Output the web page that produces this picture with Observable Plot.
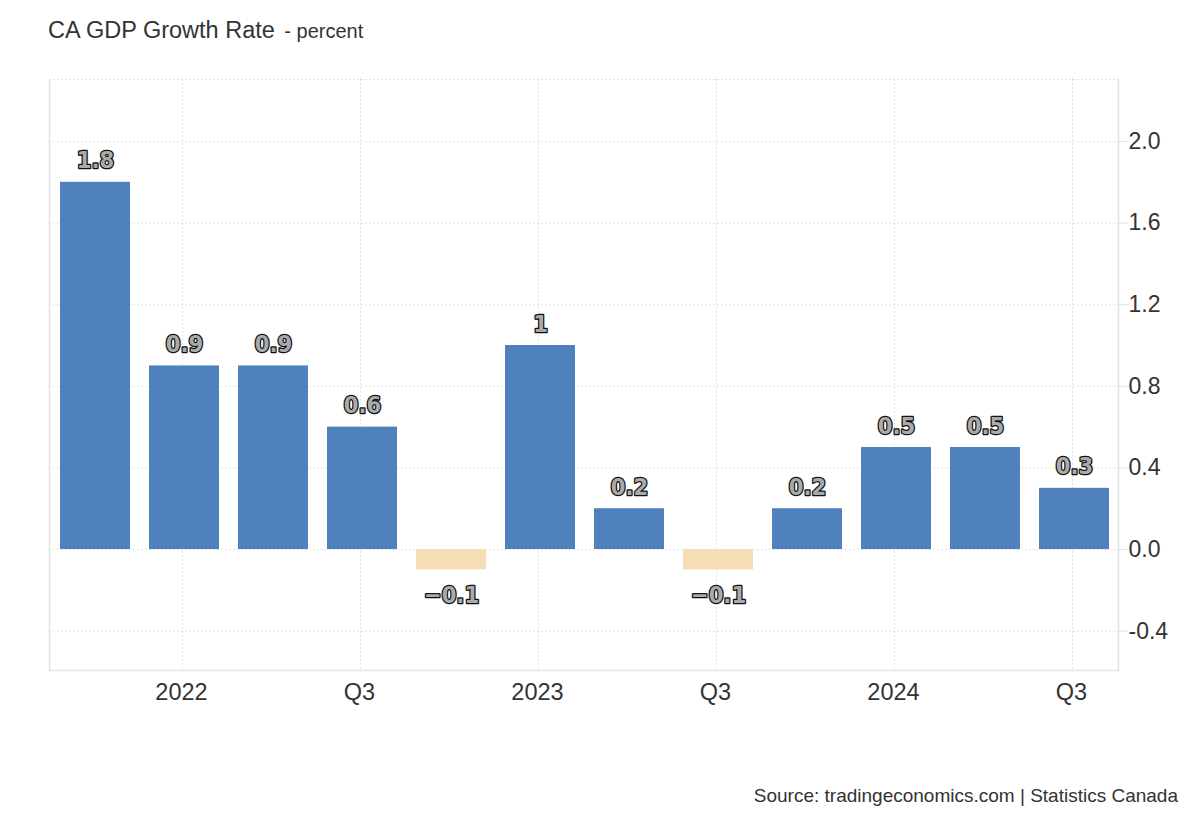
<!DOCTYPE html>
<html><head><meta charset="utf-8">
<script src="https://cdn.jsdelivr.net/npm/d3@7"></script>
<script src="https://cdn.jsdelivr.net/npm/@observablehq/plot@0.6"></script>
<style>
body{margin:0;background:#fff;font-family:"Liberation Sans",Arial,sans-serif;}
#wrap{position:relative;width:1200px;height:820px;overflow:hidden;}
#title{position:absolute;left:48px;top:17px;font-size:23.5px;color:#333;white-space:nowrap;}
#title span{font-size:20px;margin-left:3px;}
#chart{position:absolute;left:0;top:60px;}
#source{position:absolute;right:22px;top:785px;font-size:19px;color:#333;white-space:nowrap;}
</style></head>
<body>
<div id="wrap">
  <div id="title">CA GDP Growth Rate <span>- percent</span></div>
  <div id="chart"></div>
  <div id="source">Source: tradingeconomics.com | Statistics Canada</div>
</div>
<script>
const quarters = ["2021Q4","2022Q1","2022Q2","2022Q3","2022Q4","2023Q1","2023Q2","2023Q3","2023Q4","2024Q1","2024Q2","2024Q3"];
const values = [1.8, 0.9, 0.9, 0.6, -0.1, 1.0, 0.2, -0.1, 0.2, 0.5, 0.5, 0.3];
const xTickQuarters = ["2022Q1","2022Q3","2023Q1","2023Q3","2024Q1","2024Q3"];
const xTickLabels = ["2022","Q3","2023","Q3","2024","Q3"];
const yTicks = [-0.4, 0, 0.4, 0.8, 1.2, 1.6, 2.0];
const yDomain = [-0.593, 2.304];

const posColor = "#4f81bd";
const negColor = "#f5deb3";
const gridColor = "#d9d9d9";
const frameColor = "#e3e3e3";

const data = quarters.map((q, i) => ({q, v: values[i]}));
const fmtLabel = v => (v < 0 ? "\u2212" : "") + String(Math.abs(v));
const labelFont = {fontFamily: "'DejaVu Sans Condensed','DejaVu Sans',sans-serif", fontWeight: "bold", fontSize: 23.5,
  fill: "#aaa", stroke: "#111", strokeWidth: 2.5, paintOrder: "stroke"};

const chart = Plot.plot({
  width: 1200,
  height: 680,
  marginTop: 19,
  marginBottom: 70,
  marginLeft: 49,
  marginRight: 82,
  style: {fontFamily: "'Liberation Sans',Arial,sans-serif", background: "#fff"},
  x: {domain: quarters, paddingInner: 0.214, paddingOuter: 0.1, align: 0.55},
  y: {domain: yDomain},
  marks: [
    Plot.gridY({ticks: yTicks, stroke: gridColor, strokeOpacity: 1, strokeDasharray: "1.5,2.5"}),
    Plot.ruleY([yDomain[1]], {stroke: gridColor, strokeDasharray: "1.5,2.5"}),
    Plot.gridX({ticks: xTickQuarters, stroke: gridColor, strokeOpacity: 1, strokeDasharray: "1.5,2.5", dx: -2}),
    Plot.frame({anchor: "left", stroke: frameColor, strokeWidth: 1.5}),
    Plot.frame({anchor: "right", stroke: frameColor, strokeWidth: 1.5}),
    Plot.frame({anchor: "bottom", stroke: frameColor, strokeWidth: 1.5}),
    Plot.barY(data, {x: "q", y: "v", fill: d => d.v < 0 ? negColor : posColor}),
    Plot.text(data.filter(d => d.v >= 0), {x: "q", y: "v", text: d => fmtLabel(d.v), lineAnchor: "bottom", dy: -14, ...labelFont}),
    Plot.text(data.filter(d => d.v < 0), {x: "q", y: "v", text: d => fmtLabel(d.v), lineAnchor: "top", dy: 16, ...labelFont}),
    Plot.axisY({anchor: "right", ticks: yTicks, tickFormat: d => d.toFixed(1), tickSize: 10, tickPadding: 0,
      stroke: frameColor, fill: "#333", fontSize: 23, label: null}),
    Plot.axisX({ticks: xTickQuarters, tickFormat: d => xTickLabels[xTickQuarters.indexOf(d)], tickSize: 0, tickPadding: 13,
      fill: "#333", fontSize: 23.5, label: null, dx: -3})
  ]
});
document.getElementById("chart").appendChild(chart);
</script>
</body></html>
